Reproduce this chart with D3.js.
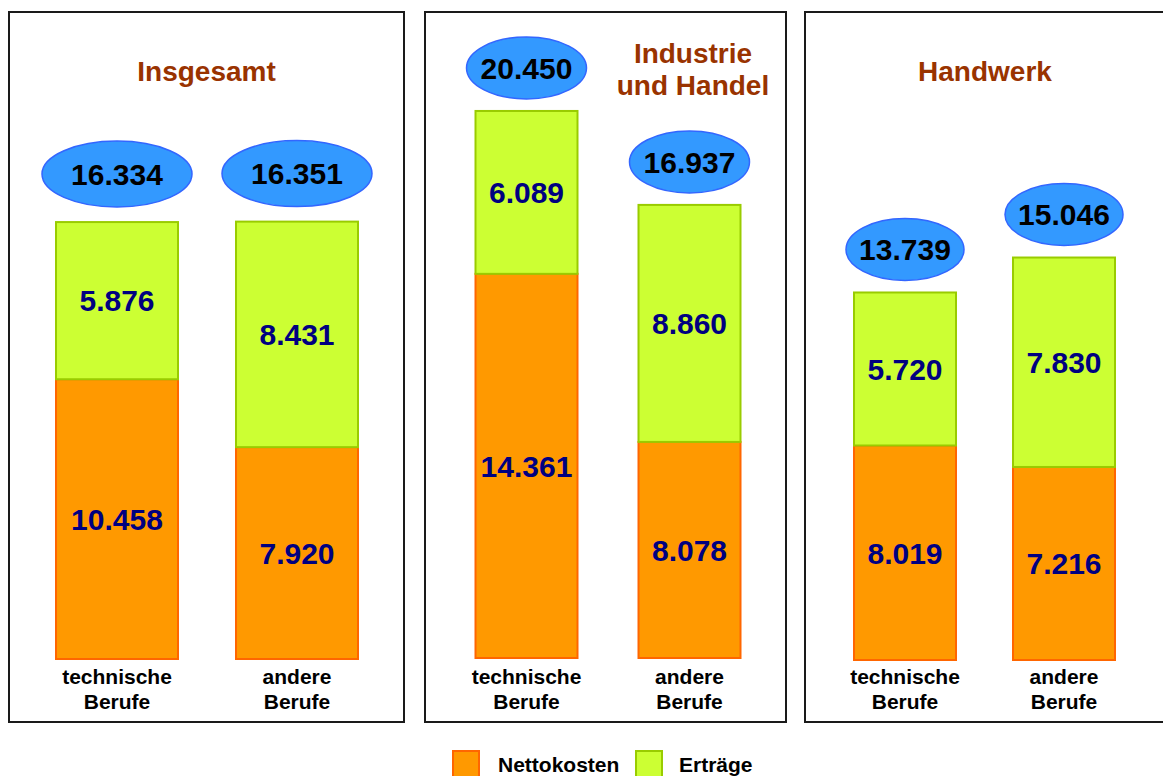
<!DOCTYPE html>
<html>
<head>
<meta charset="utf-8">
<script src="https://cdn.jsdelivr.net/npm/d3@7"></script>
<style>
  html, body { margin: 0; padding: 0; background: #ffffff; }
  svg { display: block; font-family: "Liberation Sans", Arial, Helvetica, sans-serif; }
</style>
</head>
<body>
<svg id="chart" width="1163" height="776"></svg>
<script>
// ---- Data ----
const groups = ["Insgesamt", "Industrie und Handel", "Handwerk"];
const categories = ["technische Berufe", "andere Berufe"];
const nettokosten = [[10458, 7920], [14361, 8078], [8019, 7216]];
const ertraege = [[5876, 8431], [6089, 8860], [5720, 7830]];
const totals = [[16334, 16351], [20450, 16937], [13739, 15046]];
const seriesNames = ["Nettokosten", "Erträge"];

// ---- Layout (positions / styles) ----
const panels = [
  { x0: 9,   x1: 404,  barL: 56,    barR: 358,   barW: 122, base: 659, titleX: 206.5, titleY: [81],     ell: { rx: 75, ry: 33, off: 48 } },
  { x0: 425, x1: 786,  barL: 475.5, barR: 740.5, barW: 102, base: 658, titleX: 693,   titleY: [63, 95], ell: { rx: 60, ry: 31, off: 43 } },
  { x0: 805, x1: 1166, barL: 854,   barR: 1115,  barW: 102, base: 660, titleX: 985,   titleY: [81],     ell: { rx: 59, ry: 31, off: 43 } }
];
const panelTop = 12, panelBottom = 722;
const colors = {
  Nettokosten: { fill: "#FF9900", stroke: "#FF6600" },
  "Erträge":   { fill: "#CCFF33", stroke: "#99CC00" }
};
const titleLines = [["Insgesamt"], ["Industrie", "und Handel"], ["Handwerk"]];

const de = d3.formatLocale({ decimal: ",", thousands: ".", grouping: [3], currency: ["", "€"] });
const fmt = de.format(",");

// height scale: value -> pixels
const h = d3.scaleLinear().domain([0, 20000]).range([0, 535]);

const svg = d3.select("#chart");

groups.forEach((g, gi) => {
  const p = panels[gi];
  const gp = svg.append("g");

  // panel frame
  gp.append("rect")
    .attr("x", p.x0).attr("y", panelTop)
    .attr("width", p.x1 - p.x0).attr("height", panelBottom - panelTop)
    .attr("fill", "none").attr("stroke", "#1a1a1a").attr("stroke-width", 2);

  // title
  const t = gp.append("text")
    .attr("x", p.titleX)
    .attr("text-anchor", "middle")
    .attr("font-size", 28).attr("font-weight", "bold")
    .attr("fill", "#993300");
  titleLines[gi].forEach((line, li) => {
    t.append("tspan").attr("x", p.titleX).attr("y", p.titleY[li]).text(line);
  });

  // x band scale
  const W = p.barR - p.barL;
  const step = W - p.barW;
  const x = d3.scaleBand().domain(categories).range([p.barL, p.barR])
    .paddingInner(1 - p.barW / step).paddingOuter(0);
  const y = v => p.base - h(v);

  categories.forEach((c, ci) => {
    const n = nettokosten[gi][ci];
    const e = ertraege[gi][ci];
    const bx = x(c), bw = x.bandwidth();
    const segs = [
      { name: "Nettokosten", v0: 0, v1: n, v: n },
      { name: "Erträge", v0: n, v1: n + e, v: e }
    ];
    segs.forEach(s => {
      gp.append("rect")
        .attr("x", bx).attr("y", y(s.v1))
        .attr("width", bw).attr("height", y(s.v0) - y(s.v1))
        .attr("fill", colors[s.name].fill)
        .attr("stroke", colors[s.name].stroke).attr("stroke-width", 2);
      gp.append("text")
        .attr("x", bx + bw / 2)
        .attr("y", (y(s.v0) + y(s.v1)) / 2)
        .attr("dy", "0.36em")
        .attr("text-anchor", "middle")
        .attr("font-size", 30).attr("font-weight", "bold")
        .attr("fill", "#000080")
        .text(fmt(s.v));
    });

    // total ellipse
    const tot = totals[gi][ci];
    const cy = y(n + e) - p.ell.off;
    gp.append("ellipse")
      .attr("cx", bx + bw / 2).attr("cy", cy)
      .attr("rx", p.ell.rx).attr("ry", p.ell.ry)
      .attr("fill", "#3399FF").attr("stroke", "#3366FF").attr("stroke-width", 1.5);
    gp.append("text")
      .attr("x", bx + bw / 2).attr("y", cy).attr("dy", "0.36em")
      .attr("text-anchor", "middle")
      .attr("font-size", 30).attr("font-weight", "bold")
      .attr("fill", "#000000")
      .text(fmt(tot));

    // category label
    const words = c.split(" ");
    const lt = gp.append("text")
      .attr("text-anchor", "middle")
      .attr("font-size", 21).attr("font-weight", "bold")
      .attr("fill", "#000000");
    words.forEach((w, wi) => {
      lt.append("tspan").attr("x", bx + bw / 2).attr("y", 684 + wi * 24.5).text(w);
    });
  });
});

// legend
const legendPos = [{ sx: 453, tx: 498 }, { sx: 636, tx: 679 }];
seriesNames.forEach((s, i) => {
  const lp = legendPos[i];
  svg.append("rect")
    .attr("x", lp.sx).attr("y", 751)
    .attr("width", 26).attr("height", 26)
    .attr("fill", colors[s].fill).attr("stroke", colors[s].stroke).attr("stroke-width", 2);
  svg.append("text")
    .attr("x", lp.tx).attr("y", 772)
    .attr("font-size", 21).attr("font-weight", "bold")
    .attr("fill", "#000000")
    .text(s);
});
</script>
</body>
</html>
